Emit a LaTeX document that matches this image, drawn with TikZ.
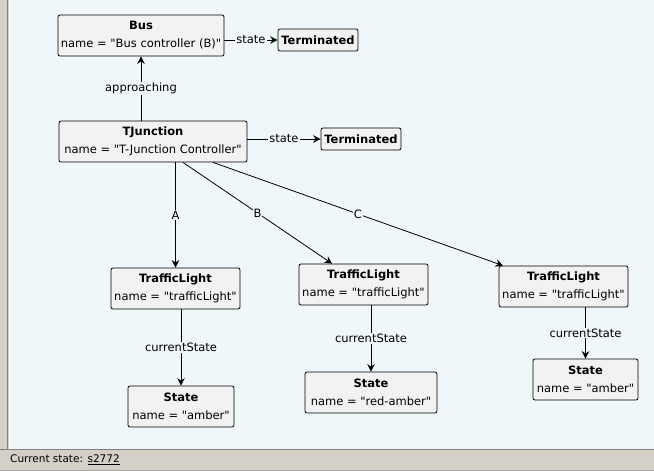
\documentclass[tikz,border=0pt]{standalone}
\usepackage{fontspec}
\setmainfont{DejaVu Sans}[Ligatures=TeXOff]
\usetikzlibrary{arrows.meta}
\definecolor{canvasbg}{HTML}{F0F7FB}
\definecolor{boxfill}{HTML}{F2F2F2}
\definecolor{barbg}{HTML}{D4D0C8}
\definecolor{barline}{HTML}{808080}

\begin{document}
\begin{tikzpicture}[x=1pt, y=-1pt,
    box/.style={draw, rounded corners=2pt, line width=0.8pt, fill=boxfill, minimum height=41pt, align=center, inner sep=2pt, font=\fontsize{11.5}{18}\selectfont},
    term/.style={draw, rounded corners=2pt, line width=0.8pt, fill=boxfill, minimum width=80pt, minimum height=22pt, inner sep=2pt, font=\fontsize{11.5}{13}\selectfont\bfseries},
    arr/.style={-{Stealth[length=7.5pt,width=7.5pt,inset=2.5pt]}, line width=0.8pt},
    lbl/.style={font=\fontsize{11.5}{13}\selectfont, fill=canvasbg, inner sep=1pt}
]
\useasboundingbox (0,0) rectangle (654,471);
\fill[canvasbg] (0,0) rectangle (654,449);
\fill[barbg] (0,449) rectangle (654,471);
\fill[barbg] (0,0) rectangle (10,449);
\draw[barline] (7,0) -- (7,449);
\draw[white] (9.5,0) -- (9.5,449);
\draw[barline] (0,449.5) -- (654,449.5);
\draw[barline!70] (0,470.5) -- (654,470.5);

\node[box, minimum width=166pt] (bus) at (141,35.5) {\textbf{Bus}\\name = "Bus controller (B)"};
\node[term] (busend) at (318,40) {Terminated};
\node[box, minimum width=188pt] (junction) at (153,141.5) {\textbf{TJunction}\\name = "T-Junction Controller"};
\node[term] (junctionend) at (361,139) {Terminated};
\node[box, minimum width=129pt] (lightA) at (175.5,288.5) {\textbf{TrafficLight}\\name = "trafficLight"};
\node[box, minimum width=129pt] (lightB) at (363.5,284.5) {\textbf{TrafficLight}\\name = "trafficLight"};
\node[box, minimum width=129pt] (lightC) at (563.5,286.5) {\textbf{TrafficLight}\\name = "trafficLight"};
\node[box, minimum width=106pt] (stateA) at (181,406.5) {\textbf{State}\\name = "amber"};
\node[box, minimum width=132pt] (stateB) at (371,392.5) {\textbf{State}\\name = "red-amber"};
\node[box, minimum width=105pt] (stateC) at (585.5,379.5) {\textbf{State}\\name = "amber"};
\node[anchor=west, inner sep=0pt, font=\fontsize{10.5}{12}\selectfont] (status) at (10,459.5) {Current state: \underline{s2772}};

\draw[arr] (junction.north -| bus.south) -- node[lbl] {approaching} (bus.south);
\draw[arr] (bus.east |- busend.west) -- node[lbl] {state} (busend.west);
\draw[arr] (junction.east |- junctionend.west) -- node[lbl] {state} (junctionend.west);
\draw[arr] (junction.south -| lightA.north) -- node[lbl] {A} (lightA.north);
\draw[arr] ([xshift=30pt]junction.south) -- node[lbl] {B} ([xshift=-31.5pt]lightB.north);
\draw[arr] ([xshift=60pt]junction.south) -- node[lbl] {C} ([xshift=-60.5pt]lightC.north);
\draw[arr] (lightA.south -| stateA.north) -- node[lbl] {currentState} (stateA.north);
\draw[arr] (lightB.south -| stateB.north) -- node[lbl] {currentState} (stateB.north);
\draw[arr] (lightC.south -| stateC.north) -- node[lbl] {currentState} (stateC.north);
\end{tikzpicture}
\end{document}
